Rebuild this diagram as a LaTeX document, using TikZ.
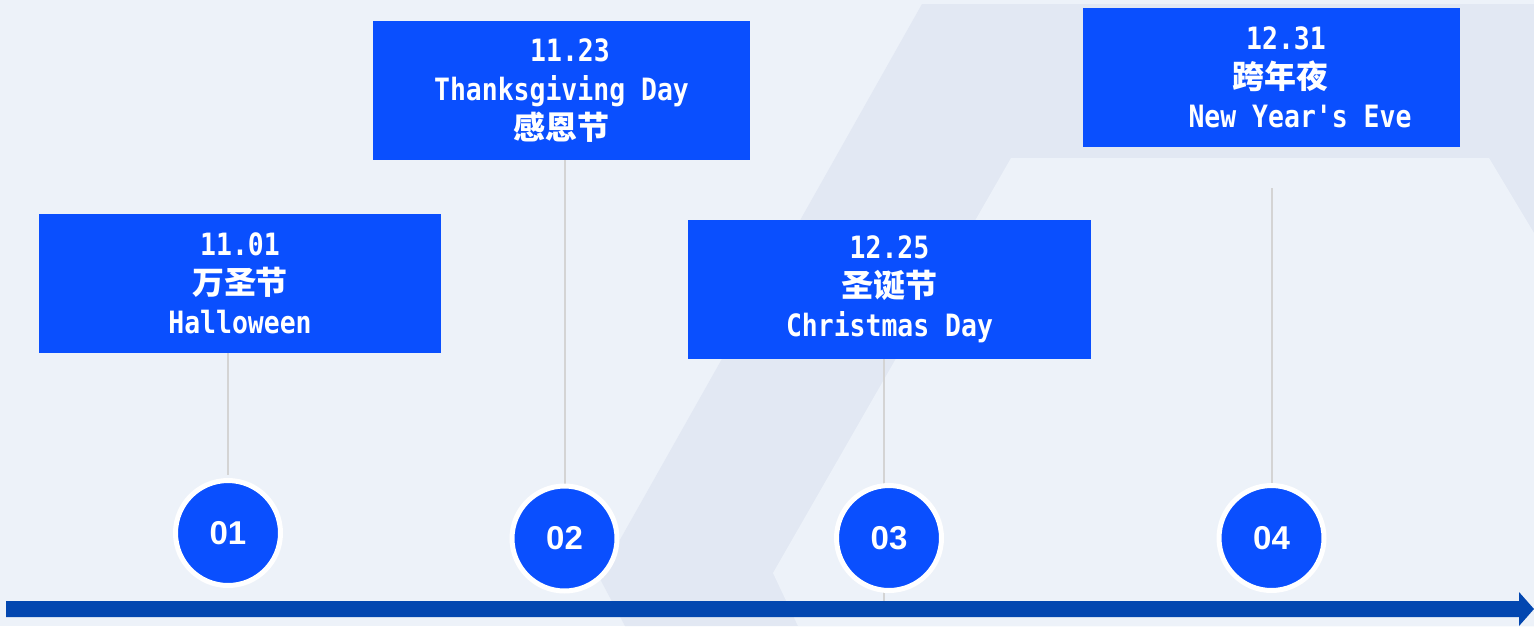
\documentclass[tikz,border=0pt]{standalone}
\usepackage{fontspec}
\setmonofont{DejaVu Sans Mono}[FakeStretch=0.86]
\newfontfamily\cjkfont{Noto Sans CJK SC}
\newfontfamily\numfont{Liberation Sans}
\definecolor{boxblue}{RGB}{10,79,254}
\definecolor{axisblue}{RGB}{3,71,176}
\definecolor{pagebg}{RGB}{237,242,249}
\definecolor{bandbg}{RGB}{226,232,243}
\definecolor{stemgray}{RGB}{212,212,212}
\newcommand{\zh}[1]{{\cjkfont\bfseries\fontsize{18.2pt}{22.2pt}\selectfont #1}}
\tikzset{
    datebox/.style={fill=boxblue, text=white, align=center, inner sep=0pt,
        minimum height=2.78cm,
        font=\ttfamily\bfseries\fontsize{17.5pt}{22.2pt}\selectfont},
    stepdot/.style={circle, fill=boxblue, draw=white, line width=0.1cm,
        minimum size=2.1cm, inner sep=0pt, outer sep=0pt, text=white,
        font=\numfont\bfseries\fontsize{18.8pt}{20pt}\selectfont},
    stem/.style={draw=stemgray, line width=0.04cm}
}
\begin{document}
\begin{tikzpicture}[x=0.02cm, y=-0.02cm]
    \useasboundingbox (0,0) rectangle (1534,626);
    % Background
    \fill[pagebg] (0,0) rectangle (1534,626);
    \fill[bandbg] (922,4) -- (1534,4) -- (1534,626) -- (625,626) -- (599,577) -- cycle;
    \fill[pagebg] (1011,158) -- (1489,158) -- (1534,233) -- (1534,626)
          -- (798,626) -- (773,573) -- cycle;

    % Date boxes
    \node[datebox, minimum width=8.04cm] (b1) at (240,283.5)
          {11.01\\\zh{万圣节}\\Halloween};
    \node[datebox, minimum width=7.54cm] (b2) at (561.5,90.5)
          {\hspace*{0.34cm}11.23\\Thanksgiving Day\\\zh{感恩节}};
    \node[datebox, minimum width=8.06cm] (b3) at (889.5,289.5)
          {12.25\\\zh{圣诞节}\\Christmas Day};
    \node[datebox, minimum width=7.54cm] (b4) at (1271.5,77.5)
          {\hspace*{0.58cm}12.31\\\hspace*{0.34cm}\zh{跨年夜}\\\hspace*{1.14cm}New Year's Eve};

    % Axis
    \coordinate (ax0) at (6,601);
    \coordinate (ax1) at (1534,609);
    \fill[axisblue] (ax0) -- (1519,601) -- (1519,592) -- (ax1) -- (1519,626)
          -- (1519,617) -- (6,617) -- cycle;

    % Steps
    \coordinate (c1) at (228,533);
    \coordinate (c2) at (564.5,538.5);
    \coordinate (c3) at (884,538);
    \coordinate (c4) at (1271.5,538);
    \coordinate (s4) at (1271.5,188);
    \draw[stem] (b1.south -| c1) -- (c1 |- 0,475);
    \draw[stem] (b2.south -| c2) -- (c2);
    \draw[stem] (b3.south -| c3) -- (c3 |- ax0);
    \draw[stem] (s4) -- (c4);
    \node[stepdot] (n1) at (c1) {01};
    \node[stepdot] (n2) at (c2) {02};
    \node[stepdot] (n3) at ([xshift=0.1cm]c3) {03};
    \node[stepdot] (n4) at (c4) {04};
\end{tikzpicture}
\end{document}
